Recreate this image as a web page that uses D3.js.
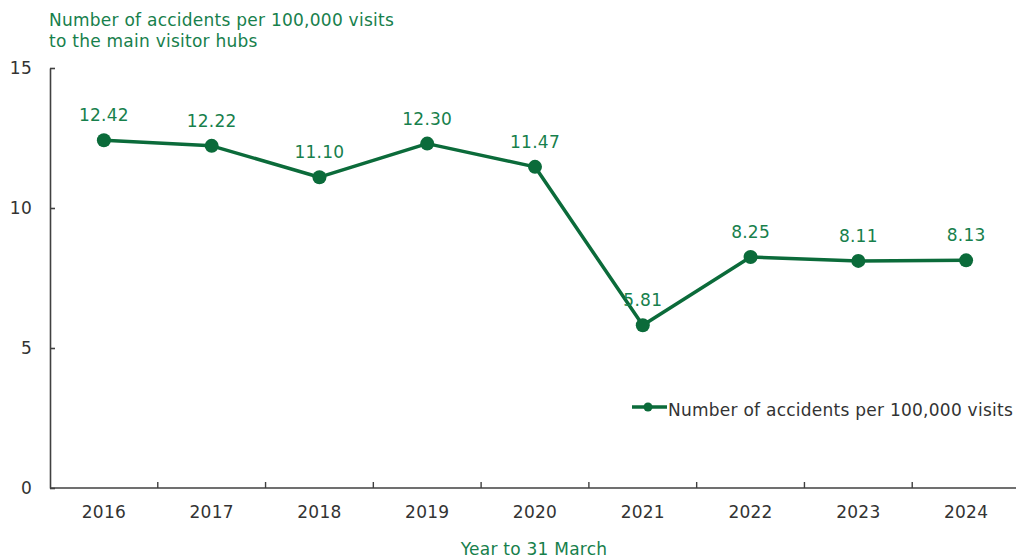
<!DOCTYPE html>
<html>
<head>
<meta charset="utf-8">
<script src="https://cdn.jsdelivr.net/npm/d3@7"></script>
<style>
  body { margin: 0; background: #fff; }
  svg { display: block; font-family: Verdana, "DejaVu Sans", sans-serif; }
</style>
</head>
<body>
<svg id="chart" width="1016" height="559"></svg>
<script>
// Accident rate per 100,000 visits, by financial year ending 31 March
const years = ["2016", "2017", "2018", "2019", "2020", "2021", "2022", "2023", "2024"];
const rates = [12.42, 12.22, 11.10, 12.30, 11.47, 5.81, 8.25, 8.11, 8.13];
const yTicks = [0, 5, 10, 15];
const seriesName = "Number of accidents per 100,000 visits";
const yTitleLines = ["Number of accidents per 100,000 visits", "to the main visitor hubs"];
const xTitle = "Year to 31 March";

const lineColor = "#0b6b3a";
const textGreen = "#17804c";
const axisColor = "#404040";
const tickText = "#333333";
const fontSize = 17;
const spacing = 0.25;

const svg = d3.select("#chart");
const margin = { left: 50, top: 68, right: -4, bottom: 71 };
const W = 1016, H = 559;

const x = d3.scaleBand().domain(years).range([margin.left, W - margin.right]);
const y = d3.scaleLinear().domain([0, 15]).range([H - margin.bottom, margin.top]);

// Y axis, ticks drawn inward
const yAxis = svg.append("g")
  .attr("transform", `translate(${margin.left},0)`)
  .call(d3.axisLeft(y).tickValues(yTicks).tickSizeInner(-5).tickSizeOuter(0).tickPadding(18));
yAxis.select(".domain").attr("stroke", axisColor).attr("stroke-width", 1.6);
yAxis.selectAll(".tick line").attr("stroke", axisColor).attr("stroke-width", 1.6);
yAxis.selectAll(".tick text").attr("fill", tickText).attr("font-size", fontSize)
  .attr("letter-spacing", spacing)
  .attr("font-family", "Verdana, 'DejaVu Sans', sans-serif");

// X axis with boundary ticks between categories
const xAxisG = svg.append("g").attr("transform", `translate(0,${y(0)})`);
xAxisG.append("line")
  .attr("x1", margin.left).attr("x2", W)
  .attr("stroke", axisColor).attr("stroke-width", 1.6);
xAxisG.selectAll("line.bt")
  .data(years.slice(1))
  .join("line").attr("class", "bt")
  .attr("x1", d => x(d)).attr("x2", d => x(d))
  .attr("y1", 0).attr("y2", -6)
  .attr("stroke", axisColor).attr("stroke-width", 1.4);
xAxisG.selectAll("text")
  .data(years)
  .join("text")
  .attr("x", d => x(d) + x.bandwidth() / 2)
  .attr("y", 30)
  .attr("text-anchor", "middle")
  .attr("fill", tickText)
  .attr("font-size", fontSize)
  .attr("letter-spacing", spacing)
  .text(d => d);

// Axis titles
svg.append("text")
  .attr("x", 49).attr("y", 26)
  .attr("fill", textGreen).attr("font-size", fontSize)
  .attr("letter-spacing", spacing)
  .selectAll("tspan").data(yTitleLines).join("tspan")
  .attr("x", 49).attr("dy", (d, i) => i === 0 ? 0 : 21)
  .text(d => d);

svg.append("text")
  .attr("x", 534).attr("y", 555)
  .attr("text-anchor", "middle")
  .attr("fill", textGreen).attr("font-size", fontSize)
  .attr("letter-spacing", spacing)
  .text(xTitle);

// Series line and points
const pts = years.map((yr, i) => ({ yr, v: rates[i] }));
const cx = d => x(d.yr) + x.bandwidth() / 2;

svg.append("path")
  .datum(pts)
  .attr("fill", "none")
  .attr("stroke", lineColor)
  .attr("stroke-width", 3.5)
  .attr("stroke-linejoin", "round")
  .attr("d", d3.line().x(cx).y(d => y(d.v)));

svg.selectAll("circle.pt")
  .data(pts)
  .join("circle").attr("class", "pt")
  .attr("cx", cx).attr("cy", d => y(d.v))
  .attr("r", 7)
  .attr("fill", lineColor);

svg.selectAll("text.lbl")
  .data(pts)
  .join("text").attr("class", "lbl")
  .attr("x", cx).attr("y", d => y(d.v) - 19)
  .attr("text-anchor", "middle")
  .attr("fill", textGreen)
  .attr("font-size", fontSize)
  .attr("letter-spacing", spacing)
  .text(d => d.v.toFixed(2));

// Legend
const lg = svg.append("g").attr("transform", "translate(632,407)");
lg.append("line").attr("x1", 0).attr("x2", 35).attr("stroke", lineColor).attr("stroke-width", 3.5);
lg.append("circle").attr("cx", 16).attr("r", 4.5).attr("fill", lineColor);
lg.append("text").attr("x", 36).attr("y", 9).attr("fill", tickText)
  .attr("font-size", fontSize).attr("letter-spacing", spacing).text(seriesName);
</script>
</body>
</html>
